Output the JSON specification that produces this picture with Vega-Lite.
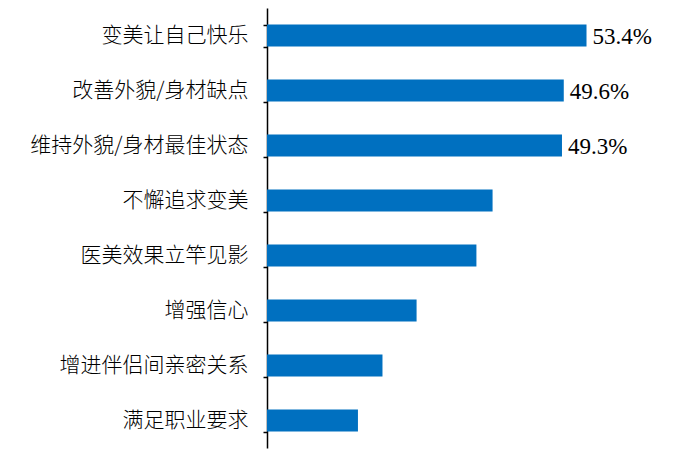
{
  "$schema": "https://vega.github.io/schema/vega-lite/v6.json",
  "autosize": "none",
  "padding": {"left": 267, "top": 8, "right": 69, "bottom": 2},
  "width": 359,
  "height": 440,
  "background": "white",
  "config": {"view": {"stroke": null}},
  "data": {
    "values": [
      {"reason": "变美让自己快乐", "pct": 53.4, "label": "53.4%"},
      {"reason": "改善外貌/身材缺点", "pct": 49.6, "label": "49.6%"},
      {"reason": "维持外貌/身材最佳状态", "pct": 49.3, "label": "49.3%"},
      {"reason": "不懈追求变美", "pct": 37.7, "label": ""},
      {"reason": "医美效果立竿见影", "pct": 35.0, "label": ""},
      {"reason": "增强信心", "pct": 25.0, "label": ""},
      {"reason": "增进伴侣间亲密关系", "pct": 19.3, "label": ""},
      {"reason": "满足职业要求", "pct": 15.2, "label": ""}
    ]
  },
  "encoding": {
    "y": {
      "field": "reason",
      "type": "nominal",
      "sort": null,
      "scale": {"paddingInner": 0.6, "paddingOuter": 0.3},
      "axis": {
        "title": null,
        "domainColor": "#000000",
        "domainWidth": 1.5,
        "ticks": true,
        "tickColor": "#000000",
        "tickWidth": 1.5,
        "tickSize": 4,
        "tickBand": "extent",
        "labelFont": "Noto Sans CJK SC",
        "labelFontSize": 21,
        "labelFontWeight": 300,
        "labelColor": "#000000",
        "labelPadding": 15,
        "labelLimit": 400
      }
    },
    "x": {
      "field": "pct",
      "type": "quantitative",
      "scale": {"domain": [0, 60]},
      "axis": null
    }
  },
  "layer": [
    {"mark": {"type": "bar", "color": "#0070C0"}},
    {
      "mark": {
        "type": "text",
        "align": "left",
        "baseline": "middle",
        "dx": 6,
        "dy": 1,
        "font": "Liberation Serif",
        "fontSize": 23,
        "color": "#000000"
      },
      "encoding": {"text": {"field": "label"}}
    }
  ]
}
